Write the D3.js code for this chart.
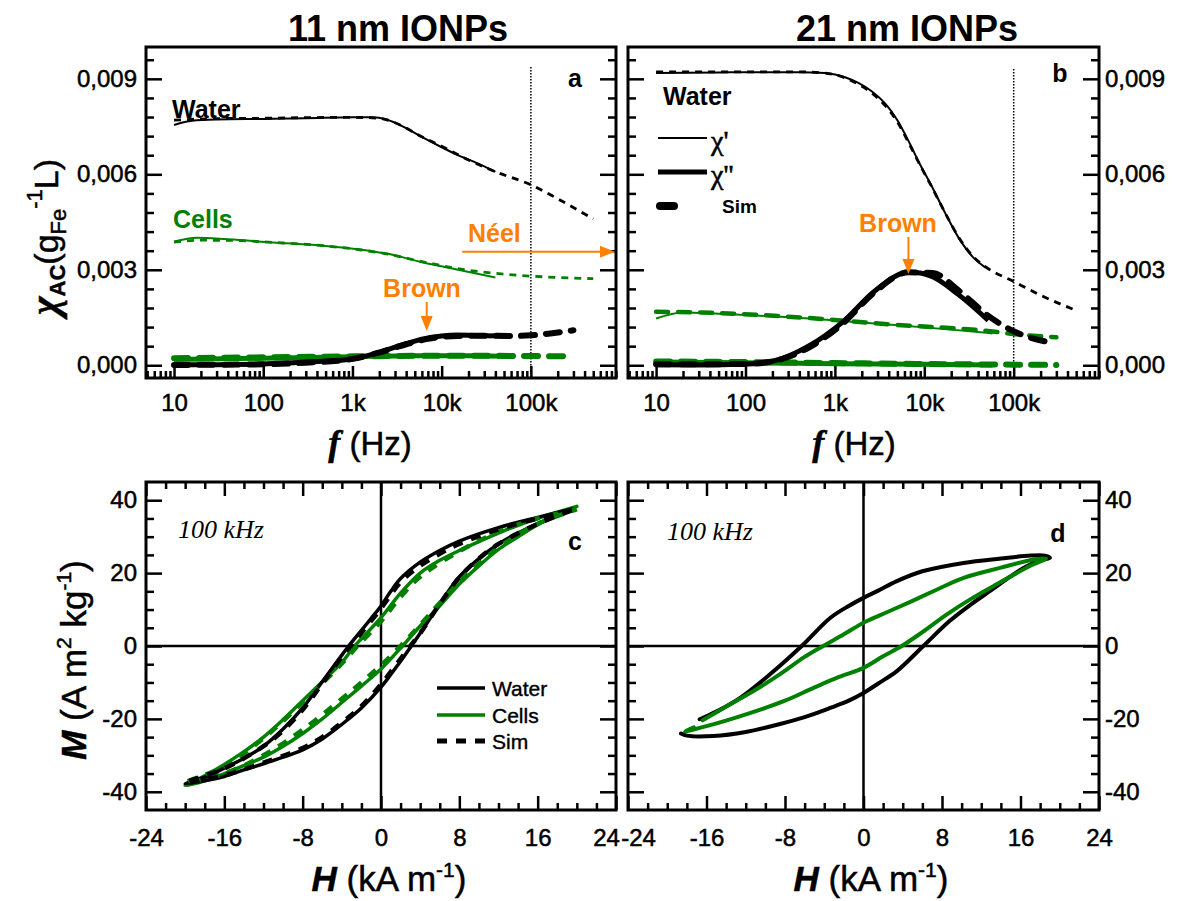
<!DOCTYPE html>
<html>
<head>
<meta charset="utf-8">
<script src="https://cdn.jsdelivr.net/npm/d3@7"></script>
<style>
  body { margin: 0; background: #fff; }
</style>
</head>
<body>
<div id="plot"></div>
<script>
const width = 1177, height = 901;
const GREEN = "#008000", ORANGE = "#ff8000";
const SANS = "Liberation Sans, Arial, sans-serif", SERIF = "Liberation Serif, Times New Roman, serif";

// ---- AC susceptibility, 11 nm (panel a): [f (Hz), chi] ----
const a_waterRe  = [[10,0.00755],[16,0.00768],[30,0.00772],[100,0.00774],[300,0.00776],[1000,0.00779],[1700,0.00779],[2400,0.00772],[4000,0.00745],[6200,0.00715],[10000,0.00685],[14800,0.00662],[25000,0.00635],[40000,0.00608]];
const a_waterReSim = [[10,0.0077],[30,0.00775],[100,0.00776],[300,0.00778],[1000,0.00779],[2000,0.00776],[3000,0.00762],[6000,0.00718],[10000,0.00688],[20000,0.00645],[40000,0.00608],[100000,0.00567],[200000,0.00523],[500000,0.0046]];
const a_cellsRe  = [[10,0.00389],[18,0.00401],[40,0.00396],[128,0.00386],[500,0.00375],[1200,0.00364],[2400,0.00351],[6200,0.00323],[14800,0.00301],[40000,0.00276]];
const a_cellsReSim = [[10,0.00387],[20,0.00393],[50,0.00392],[128,0.00386],[500,0.00375],[1200,0.00363],[2400,0.0035],[6200,0.00325],[14800,0.00304],[40000,0.00289],[100000,0.0028],[200000,0.00276],[500000,0.00272]];
const a_waterIm  = [[10,0.00002],[30,0.00002],[100,0.00004],[300,0.0001],[1000,0.0002],[1700,0.00035],[2500,0.0005],[4000,0.00068],[6200,0.00083],[10000,0.00092],[15000,0.00095],[30000,0.00093],[55000,0.00092]];
const a_waterImSim = [[10,0.00001],[100,0.00003],[300,0.00008],[1000,0.0002],[2000,0.0004],[4000,0.00066],[7000,0.00083],[15000,0.00092],[30000,0.00093],[60000,0.00092],[100000,0.00094],[300000,0.0011]];
const a_cellsIm  = [[10,0.00018],[100,0.00022],[1000,0.00027],[5000,0.0003],[20000,0.0003],[55000,0.00028]];
const a_cellsImSim = [[10,0.00022],[100,0.00025],[1000,0.00028],[10000,0.0003],[100000,0.00029],[300000,0.00028]];

// ---- AC susceptibility, 21 nm (panel b) ----
const b_waterRe  = [[10,0.00918],[50,0.0092],[140,0.00921],[400,0.00921],[780,0.00918],[1300,0.00905],[1830,0.00887],[2600,0.0086],[3680,0.00821],[5000,0.0077],[6650,0.00705],[9000,0.0063],[12360,0.00558],[17000,0.0048],[24150,0.00401],[35000,0.0034],[48500,0.00307]];
const b_waterReSim = [[10,0.00922],[50,0.00922],[140,0.00922],[400,0.00922],[780,0.00918],[1300,0.00903],[1830,0.00883],[2600,0.00855],[3680,0.00815],[5000,0.00765],[6650,0.007],[9000,0.00628],[12360,0.00556],[17000,0.0048],[24150,0.00403],[35000,0.00342],[48500,0.00309],[100000,0.00263],[200000,0.0022],[500000,0.00172]];
const b_cellsRe  = [[10,0.00147],[20,0.00166],[50,0.00162],[333,0.0015],[4400,0.00127],[20000,0.00112],[58000,0.001]];
const b_cellsReSim = [[10,0.00168],[30,0.00166],[333,0.00152],[4400,0.00128],[58000,0.00106],[100000,0.00098],[300000,0.00088]];
const b_waterIm  = [[10,0.00002],[30,0.00001],[92,0.00003],[215,0.00015],[505,0.0006],[1210,0.00135],[2840,0.00235],[6650,0.00292],[9000,0.0029],[12360,0.00278],[24150,0.00222],[52000,0.00141]];
const b_waterImSim = [[10,0.00003],[100,0.00004],[215,0.00014],[505,0.00055],[1210,0.0013],[2840,0.00232],[6650,0.00292],[12360,0.0029],[24150,0.00235],[52000,0.00155],[100000,0.00107],[250000,0.00072]];
const b_cellsIm  = [[10,0.0001],[100,0.00008],[1000,0.00005],[10000,0.00003],[58000,0.00001]];
const b_cellsImSim = [[10,0.00012],[100,0.0001],[1000,0.00007],[10000,0.00004],[100000,0.00002],[300000,0.00001]];

// ---- hysteresis loops at 100 kHz: [H (kA/m), M (A m2/kg)] ----
const c_water = [[19.5,37.6],[16,35.3],[12,32.5],[8,28.8],[6,26.2],[4,23],[2,18.5],[1,15],[0,11],[-1,7.6],[-2,4.3],[-3.3,0],[-4,-2.5],[-6,-9.8],[-8,-17],[-10,-22.8],[-12,-27.5],[-14,-30.8],[-16,-33.5],[-18,-36],[-20,-37.8],
  [-18,-37],[-16,-35.8],[-14,-34],[-12,-32.3],[-10,-30.5],[-8,-28.5],[-6,-25.5],[-4,-21.5],[-2,-17],[0,-11.3],[1,-7.8],[2,-4.2],[3.1,0],[4,3.5],[6,11.5],[8,19],[10,24],[12,28],[14,31],[16,33.6],[18,35.8],[19.5,37.6]];
const c_waterSim = [[19.5,37.2],[16,35],[12,32],[8,28],[6,25.3],[4,22],[2,17.5],[0,10.3],[-2,3.6],[-3.1,0],[-4,-3],[-6,-10.3],[-8,-17.5],[-10,-23.2],[-12,-27.5],[-16,-33.6],[-20,-37.5],
  [-16,-35.5],[-12,-32],[-8,-28],[-6,-25],[-4,-21],[-2,-16.5],[0,-10.5],[2,-3.5],[3,0],[4,3.5],[6,11.5],[8,18.8],[10,24],[12,28],[16,33.5],[19.5,37.2]];
const c_cells = [[20,38.3],[16,35],[12,31],[8,26.2],[6,23.5],[4,20],[2,14.5],[0,7.8],[-2,2],[-2.7,0],[-4,-4.5],[-6,-9.8],[-8,-15],[-10,-20.2],[-12,-25],[-14,-29],[-16,-32.5],[-18,-35.6],[-20,-38.3],
  [-18,-37],[-16,-35],[-14,-32.8],[-12,-30.5],[-10,-27.5],[-8,-24],[-6,-20],[-4,-15.5],[-2,-11],[0,-6.3],[2.2,0],[4,5.5],[6,11],[8,17],[10,22],[12,26.5],[14,30],[16,33.3],[18,36],[20,38.3]];
const c_cellsSim = [[20,37.5],[16,35],[12,31.3],[8,26],[4,19],[2,13.5],[0,6.8],[-2.4,0],[-4,-4.8],[-8,-15.5],[-12,-25.3],[-16,-33],[-20,-37.5],
  [-16,-35],[-12,-30],[-8,-23],[-4,-14.5],[-2,-10],[0,-5.3],[2,0],[4,5.8],[8,17.5],[12,27],[16,33.5],[20,37.5]];
const d_water = [[-18.6,-24],[-18,-24.6],[-15.3,-24.7],[-12,-23.6],[-8.5,-21.4],[-6,-19.5],[-3.4,-17],[-1.5,-15],[0,-12.9],[1.5,-10.3],[3.4,-6.9],[6.1,0],[8.8,6.9],[11,11.5],[12.9,15.1],[16.3,21.4],[18,23.5],[19,24.2],
  [18.5,24.8],[17,24.8],[14,24],[10.2,22.8],[6,20.5],[3.4,17.8],[1.5,15.2],[0,13.2],[-1.5,11],[-3.4,7.7],[-6.3,0],[-9.5,-7.7],[-12.6,-14.3],[-15,-18],[-16.7,-20.1]];
const d_cells = [[-17.3,-22.3],[-18.2,-23.4],[-16,-22],[-11.9,-18.7],[-8,-15],[-5.1,-11.5],[-2.5,-8.5],[0,-6],[2,-2.8],[3.9,0],[6,3.8],[8.5,8.7],[11,13],[13.6,17],[17,22],[18.6,24],
  [17.5,23.8],[14,21.5],[10.2,18.7],[7.5,15.5],[5,12.4],[2.5,9.4],[0,6.4],[-2,3.2],[-4.1,0],[-6,-3],[-8.5,-7.7],[-11,-12],[-13.6,-16],[-16.4,-20.4]];

// ---- ticks ----
const chiTicks = [0, 0.003, 0.006, 0.009];
const chiLabels = ["0,000", "0,003", "0,006", "0,009"];
const fTicks = [10, 100, 1000, 10000, 100000];
const fLabels = ["10", "100", "1k", "10k", "100k"];
const hTicks = [-24, -16, -8, 0, 8, 16, 24];
const mTicks = [-40, -20, 0, 20, 40];

const svg = d3.select("#plot").append("svg")
  .attr("width", width).attr("height", height)
  .attr("viewBox", `0 0 ${width} ${height}`)
  .attr("font-family", SANS);

const panels = {
  a: {x0: 146, x1: 616, y0: 47, y1: 378},
  b: {x0: 628, x1: 1099, y0: 47, y1: 378},
  c: {x0: 146, x1: 616, y0: 482, y1: 810},
  d: {x0: 628, x1: 1099, y0: 482, y1: 810}
};

const fDomain = [4.85, 9e5], chiDomain = [-0.0004, 0.01];
const hDomain = [-24, 24], mDomain = [-45, 45];

// minor tick values
const fMinor = [5, 6, 7, 8, 9];
[10, 100, 1000, 10000, 100000].forEach(dec => {
  for (let k = 2; k <= 9; k++) fMinor.push(k * dec);
});
const chiMinor = d3.range(0, 0.01, 0.0006).map(v => +v.toFixed(4)).filter(v => !chiTicks.includes(v));
const hMinor = d3.range(-22, 24, 2).filter(v => v % 8 !== 0);
const mMinor = d3.range(-40, 45, 5).filter(v => v % 20 !== 0);

function styleAxis(g, size) {
  g.select(".domain").remove();
  g.selectAll("line").attr("stroke", "#000").attr("stroke-width", 2.5);
  g.selectAll("text").attr("font-family", SANS)
    .attr("font-size", size).attr("fill", "#000")
    .attr("stroke", "#000").attr("stroke-width", 0.5);
}

function frame(p) {
  svg.append("rect").attr("x", p.x0).attr("y", p.y0)
    .attr("width", p.x1 - p.x0).attr("height", p.y1 - p.y0)
    .attr("fill", "none").attr("stroke", "#000").attr("stroke-width", 3);
}

function chiPanel(key, side) {
  const p = panels[key];
  const x = d3.scaleLog().domain(fDomain).range([p.x0, p.x1]);
  const y = d3.scaleLinear().domain(chiDomain).range([p.y1, p.y0]);
  const bottom = svg.append("g").attr("transform", `translate(0,${p.y1})`);
  bottom.append("g").call(d3.axisBottom(x).tickValues(fMinor).tickSize(-7).tickFormat(""))
    .call(g => styleAxis(g, 24));
  bottom.append("g").call(d3.axisBottom(x).tickValues(fTicks).tickSize(-12).tickPadding(16).tickFormat((d, i) => fLabels[i]))
    .call(g => styleAxis(g, 24));
  [["L", p.x0], ["R", p.x1]].forEach(([s, xx]) => {
    const ax = s === "L" ? d3.axisLeft : d3.axisRight;
    const g = svg.append("g").attr("transform", `translate(${xx},0)`);
    g.append("g").call(ax(y).tickValues(chiMinor).tickSize(-8).tickFormat("")).call(gg => styleAxis(gg, 24));
    const showLab = (s === "L" && side === "left") || (s === "R" && side === "right");
    g.append("g").call(ax(y).tickValues(chiTicks).tickSize(-16).tickPadding(s === "L" ? 9 : 6)
      .tickFormat((d, i) => showLab ? chiLabels[i] : "")).call(gg => styleAxis(gg, 24));
  });
  frame(p);
  return {x, y};
}

function hmPanel(key, side) {
  const p = panels[key];
  const x = d3.scaleLinear().domain(hDomain).range([p.x0, p.x1]);
  const y = d3.scaleLinear().domain(mDomain).range([p.y1, p.y0]);
  [["B", p.y1], ["T", p.y0]].forEach(([s, yy]) => {
    const ax = s === "B" ? d3.axisBottom : d3.axisTop;
    const g = svg.append("g").attr("transform", `translate(0,${yy})`);
    g.append("g").call(ax(x).tickValues(hMinor).tickSize(-7).tickFormat("")).call(gg => styleAxis(gg, 24));
    const maj = g.append("g").call(ax(x).tickValues(hTicks).tickSize(-14).tickPadding(19)
      .tickFormat(d => s === "B" ? d : "")).call(gg => styleAxis(gg, 24));
    // the 24 of panel c and the -24 of panel d sit side by side
    if (s === "B") maj.selectAll("text").attr("dx", d => (side === "left" && d === 24) ? -10 : (side === "right" && d === -24) ? 10 : 0);
  });
  [["L", p.x0], ["R", p.x1]].forEach(([s, xx]) => {
    const ax = s === "L" ? d3.axisLeft : d3.axisRight;
    const g = svg.append("g").attr("transform", `translate(${xx},0)`);
    g.append("g").call(ax(y).tickValues(mMinor).tickSize(-8).tickFormat("")).call(gg => styleAxis(gg, 24));
    const showLab = (s === "L" && side === "left") || (s === "R" && side === "right");
    g.append("g").call(ax(y).tickValues(mTicks).tickSize(-16).tickPadding(s === "L" ? 9 : 6)
      .tickFormat(d => showLab ? d : "")).call(gg => styleAxis(gg, 24));
  });
  // zero lines
  svg.append("line").attr("x1", x(0)).attr("x2", x(0)).attr("y1", p.y0).attr("y2", p.y1)
    .attr("stroke", "#000").attr("stroke-width", 2.5);
  svg.append("line").attr("x1", p.x0).attr("x2", p.x1).attr("y1", y(0)).attr("y2", y(0))
    .attr("stroke", "#000").attr("stroke-width", 2.5);
  frame(p);
  return {x, y};
}

function curve(sc, data, color, w, dash, cap, kind) {
  const line = d3.line().x(d => sc.x(d[0])).y(d => sc.y(d[1]))
    .curve(kind || d3.curveMonotoneX);
  svg.append("path").datum(data).attr("d", line)
    .attr("fill", "none").attr("stroke", color).attr("stroke-width", w)
    .attr("stroke-dasharray", dash || null).attr("stroke-linecap", cap || "butt")
    .attr("stroke-linejoin", "round");
}

function label(x, y, txt, opts) {
  const t = svg.append("text").attr("x", x).attr("y", y).text(txt)
    .attr("font-size", opts.size).attr("font-weight", opts.weight || "normal")
    .attr("fill", opts.color || "#000").attr("text-anchor", opts.anchor || "start")
    .attr("font-family", opts.family || SANS);
  if (opts.style) t.attr("font-style", opts.style);
  if (opts.heavy) t.attr("stroke", opts.color || "#000").attr("stroke-width", opts.heavy);
  return t;
}

function arrow(x1, y1, x2, y2) {
  const ang = Math.atan2(y2 - y1, x2 - x1), L = 15, W = 6;
  const bx = x2 - L * Math.cos(ang), by = y2 - L * Math.sin(ang);
  svg.append("line").attr("x1", x1).attr("y1", y1).attr("x2", bx).attr("y2", by)
    .attr("stroke", ORANGE).attr("stroke-width", 2);
  svg.append("path").attr("fill", ORANGE)
    .attr("d", `M${x2},${y2}L${bx - W * Math.sin(ang)},${by + W * Math.cos(ang)}L${bx + W * Math.sin(ang)},${by - W * Math.cos(ang)}Z`);
}

// ---------- panel a ----------
const A = chiPanel("a", "left");
svg.append("line").attr("x1", A.x(1e5)).attr("x2", A.x(1e5)).attr("y1", 67).attr("y2", panels.a.y1)
  .attr("stroke", "#000").attr("stroke-width", 1.5).attr("stroke-dasharray", "1.5,1.5");
curve(A, a_waterRe, "#000", 2);
curve(A, a_waterReSim, "#000", 2.8, "7,6");
curve(A, a_cellsRe, GREEN, 2);
curve(A, a_cellsReSim, GREEN, 2.8, "7,6");
curve(A, a_cellsIm, GREEN, 5);
curve(A, a_cellsImSim, GREEN, 6, "14,11", "round");
curve(A, a_waterIm, "#000", 5);
curve(A, a_waterImSim, "#000", 6, "14,11", "round");
label(172, 118, "Water", {size: 25, weight: "bold"});
label(173, 228, "Cells", {size: 25, weight: "bold", color: GREEN});
label(468, 242, "Néel", {size: 25, weight: "bold", color: ORANGE});
arrow(A.x(1.7e4), A.y(0.00357), panels.a.x1 - 1, A.y(0.00357));
label(422, 297, "Brown", {size: 25, weight: "bold", color: ORANGE, anchor: "middle"});
arrow(A.x(6800), 302, A.x(6800), 331);
label(575, 87, "a", {size: 25, weight: "bold", anchor: "middle"});

// ---------- panel b ----------
const B = chiPanel("b", "right");
svg.append("line").attr("x1", B.x(1e5)).attr("x2", B.x(1e5)).attr("y1", 69).attr("y2", panels.b.y1)
  .attr("stroke", "#000").attr("stroke-width", 1.5).attr("stroke-dasharray", "1.5,1.5");
curve(B, b_waterRe, "#000", 2);
curve(B, b_waterReSim, "#000", 2.8, "7,6");
curve(B, b_cellsRe, GREEN, 2);
curve(B, b_cellsReSim, GREEN, 4.5, "12,10", "round");
curve(B, b_cellsIm, GREEN, 5);
curve(B, b_cellsImSim, GREEN, 6, "14,11", "round");
curve(B, b_waterIm, "#000", 5);
curve(B, b_waterImSim, "#000", 6, "14,11", "round");
label(663, 105, "Water", {size: 25, weight: "bold"});
svg.append("line").attr("x1", 658).attr("x2", 707).attr("y1", 138).attr("y2", 138).attr("stroke", "#000").attr("stroke-width", 2);
svg.append("line").attr("x1", 658).attr("x2", 707).attr("y1", 172).attr("y2", 172).attr("stroke", "#000").attr("stroke-width", 5);
svg.append("line").attr("x1", 660).attr("x2", 674).attr("y1", 206).attr("y2", 206).attr("stroke", "#000").attr("stroke-width", 8).attr("stroke-linecap", "round");
label(711, 150, "χ'", {size: 28, family: SERIF, heavy: 0.6});
label(711, 184, "χ''", {size: 28, family: SERIF, heavy: 0.6});
label(722, 213, "Sim", {size: 19, weight: "bold"});
label(898, 232, "Brown", {size: 25, weight: "bold", color: ORANGE, anchor: "middle"});
arrow(B.x(6650), 237, B.x(6650), 274);
label(1060, 82, "b", {size: 25, weight: "bold", anchor: "middle"});

// ---------- panel c ----------
const C = hmPanel("c", "left");
const loopCurve = d3.curveCatmullRom.alpha(0.5);
curve(C, c_cells, GREEN, 3.5, null, "round", loopCurve);
curve(C, c_water, "#000", 3.5, null, "round", loopCurve);
curve(C, c_cellsSim, GREEN, 4.5, "10,9", "butt", loopCurve);
curve(C, c_waterSim, "#000", 4.5, "10,9", "butt", loopCurve);
label(178, 538, "100 kHz", {size: 26, family: SERIF, style: "italic"});
label(575, 550, "c", {size: 25, weight: "bold", anchor: "middle"});
[["Water", "#000", null, 688], ["Cells", GREEN, null, 715], ["Sim", "#000", "10,9", 741]].forEach(([t, col, dash, yy]) => {
  svg.append("line").attr("x1", 437).attr("x2", 485).attr("y1", yy).attr("y2", yy)
    .attr("stroke", col).attr("stroke-width", dash ? 5 : 3.5).attr("stroke-dasharray", dash);
  label(492, yy + 8, t, {size: 21, heavy: 0.4});
});

// ---------- panel d ----------
const D = hmPanel("d", "right");
curve(D, d_water, "#000", 4, null, "round", loopCurve);
curve(D, d_cells, GREEN, 4, null, "round", loopCurve);
label(667, 540, "100 kHz", {size: 26, family: SERIF, style: "italic"});
label(1058, 542, "d", {size: 25, weight: "bold", anchor: "middle"});

// ---------- titles ----------
label(398, 41, "11 nm IONPs", {size: 36, weight: "bold", anchor: "middle"});
label(907, 41, "21 nm IONPs", {size: 36, weight: "bold", anchor: "middle"});

function fTitle(cx) {
  const t = svg.append("text").attr("x", cx).attr("y", 455).attr("text-anchor", "middle").attr("font-size", 33)
    .attr("stroke", "#000").attr("stroke-width", 0.5);
  t.append("tspan").attr("font-family", SERIF).attr("font-style", "italic").attr("font-weight", "bold").attr("font-size", 36).text("f");
  t.append("tspan").text(" (Hz)");
}
fTitle(370); fTitle(854);

function hTitle(cx) {
  const t = svg.append("text").attr("x", cx).attr("y", 891).attr("text-anchor", "middle").attr("font-size", 35)
    .attr("stroke", "#000").attr("stroke-width", 0.5);
  t.append("tspan").attr("font-style", "italic").attr("font-weight", "bold").text("H");
  t.append("tspan").text(" (kA m");
  t.append("tspan").attr("font-size", 21).attr("dy", -14).text("-1");
  t.append("tspan").attr("dy", 14).text(")");
}
hTitle(389); hTitle(871);

const yt = svg.append("text").attr("transform", "translate(58,237) rotate(-90)").attr("text-anchor", "middle")
  .attr("stroke", "#000").attr("stroke-width", 0.5);
yt.append("tspan").attr("font-family", SERIF).attr("font-style", "italic").attr("font-weight", "bold").attr("font-size", 40).text("χ");
yt.append("tspan").attr("font-size", 22).attr("font-weight", "bold").attr("dy", 7).text("AC");
yt.append("tspan").attr("font-size", 34).attr("dy", -7).text("(g");
yt.append("tspan").attr("font-size", 22).attr("dy", 8).text("Fe");
yt.append("tspan").attr("font-size", 22).attr("dy", -24).text("-1");
yt.append("tspan").attr("font-size", 34).attr("dy", 16).text("L)");

const mt = svg.append("text").attr("transform", "translate(86,660) rotate(-90)").attr("text-anchor", "middle").attr("font-size", 35)
  .attr("stroke", "#000").attr("stroke-width", 0.5);
mt.append("tspan").attr("font-style", "italic").attr("font-weight", "bold").text("M");
mt.append("tspan").text(" (A m");
mt.append("tspan").attr("font-size", 21).attr("dy", -15).text("2");
mt.append("tspan").attr("dy", 15).text(" kg");
mt.append("tspan").attr("font-size", 21).attr("dy", -15).text("-1");
mt.append("tspan").attr("dy", 15).text(")");
</script>
</body>
</html>
